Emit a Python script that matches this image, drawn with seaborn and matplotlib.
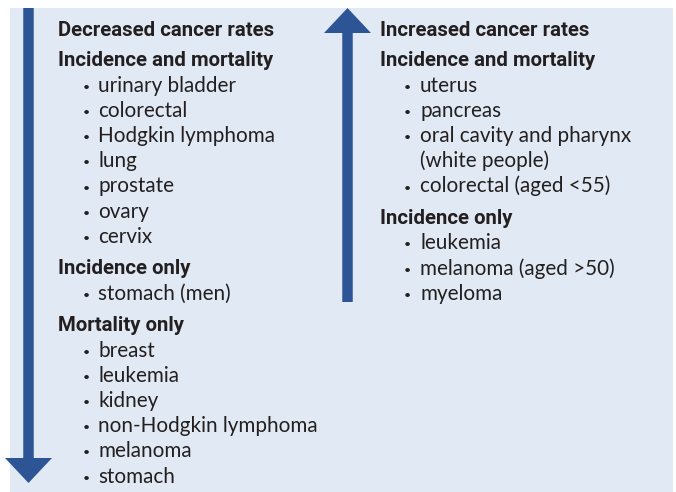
import matplotlib
matplotlib.use("Agg")
import matplotlib.pyplot as plt
from matplotlib.patches import Rectangle, FancyArrow
import seaborn as sns

# Panel content
left_title = "Decreased cancer rates"
left_sections = [
    ("Incidence and mortality", ["urinary bladder", "colorectal", "Hodgkin lymphoma",
                                 "lung", "prostate", "ovary", "cervix"]),
    ("Incidence only", ["stomach (men)"]),
    ("Mortality only", ["breast", "leukemia", "kidney", "non-Hodgkin lymphoma",
                        "melanoma", "stomach"]),
]
right_title = "Increased cancer rates"
right_sections = [
    ("Incidence and mortality", ["uterus", "pancreas", "oral cavity and pharynx",
                                 None, "colorectal (aged <55)"]),
    ("Incidence only", ["leukemia", "melanoma (aged >50)", "myeloma"]),
]
# continuation line for a wrapped item (None above)
wrap_text = "(white people)"

BG = "#E1EAF4"
BLUE = "#2D5596"
INK = "#231F20"

sns.set_style("white")
plt.rcParams["font.family"] = ["Lato", "DejaVu Sans"]

fig = plt.figure(figsize=(6.76, 4.92), dpi=100)
ax = fig.add_axes([0, 0, 1, 1])
ax.set_xlim(0, 676)
ax.set_ylim(492, 0)
ax.axis("off")

# background panel
ax.add_patch(Rectangle((10, 8), 663, 484, color=BG, lw=0))

# down arrow (left) and up arrow (right)
ax.add_patch(FancyArrow(28.5, 8, 0, 475, width=10.5, head_width=47, head_length=25,
                        length_includes_head=True, color=BLUE, lw=0))
ax.add_patch(FancyArrow(347.5, 302, 0, -294, width=10.5, head_width=47, head_length=25,
                        length_includes_head=True, color=BLUE, lw=0))

FS = 14.9
FS_BOLD = 14.7
BOLD_FAMILY = ["Roboto", "DejaVu Sans"]
STEP = 25.2
GAP = 6


def draw_panel(x_head, x_bullet, x_item, title, sections):
    y = 36
    ax.text(x_head, y, title, fontsize=FS_BOLD, fontweight="bold", family=BOLD_FAMILY,
            color=INK, va="baseline")
    y += 30
    for head, items in sections:
        ax.text(x_head, y, head, fontsize=FS_BOLD, fontweight="bold", family=BOLD_FAMILY,
                color=INK, va="baseline")
        y += STEP + 0.5
        for it in items:
            if it is None:
                ax.text(x_item, y, wrap_text, fontsize=FS, color=INK, va="baseline")
            else:
                ax.text(x_bullet, y - 1, "\u2022", fontsize=FS * 0.6, color=INK,
                        ha="center", va="baseline")
                ax.text(x_item, y, it, fontsize=FS, color=INK, va="baseline")
            y += STEP
        y += GAP


draw_panel(58, 86, 98, left_title, left_sections)
draw_panel(380, 407, 420, right_title, right_sections)

fig.savefig("out.png", dpi=100)
